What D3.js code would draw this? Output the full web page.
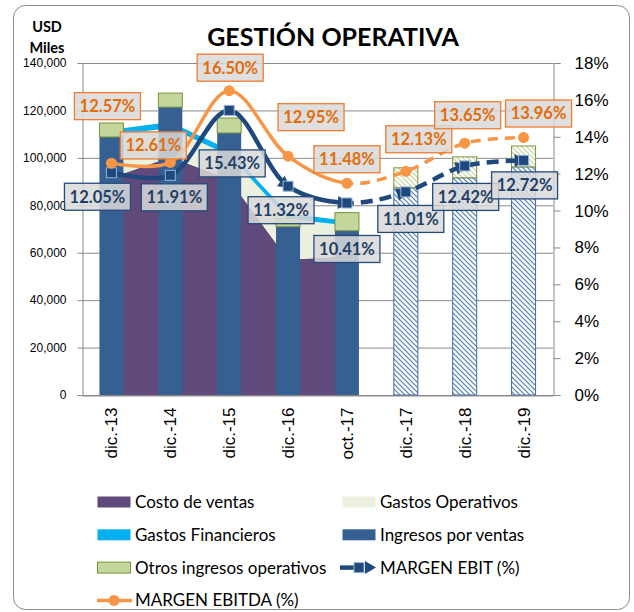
<!DOCTYPE html>
<html>
<head>
<meta charset="utf-8">
<script src="https://cdn.jsdelivr.net/npm/d3@7"></script>
<style>
  body { margin: 0; background: #fff; }
  svg { font-family: Lato, "Open Sans", sans-serif; }
</style>
</head>
<body>
<div id="vis"></div>
<script>
// data
const categories = ["dic.-13", "dic.-14", "dic.-15", "dic.-16", "oct.-17", "dic.-17", "dic.-18", "dic.-19"];
const costoVentas = [91600, 100400, 91000, 57000, 58500, null, null, null];
const gastosOperativos = [17900, 12200, 10000, 17300, 13000, null, null, null];
const gastosFinancieros = [2300, 2500, 2400, 2200, 2000, null, null, null];
const ingresosVentas = [108800, 121400, 110500, 71000, 69300, 87400, 91600, 96200];
const otrosIngresos = [5900, 5900, 6300, 3500, 7600, 8400, 8800, 8800];
const margenEbit = [12.05, 11.91, 15.43, 11.32, 10.41, 11.01, 12.42, 12.72];
const margenEbitda = [12.57, 12.61, 16.50, 12.95, 11.48, 12.13, 13.65, 13.96];
const proyectado = [false, false, false, false, false, true, true, true];
const leftTicks = [0, 20000, 40000, 60000, 80000, 100000, 120000, 140000];
const rightTicks = [0, 2, 4, 6, 8, 10, 12, 14, 16, 18];

// where the data labels sit, relative to their point
const ebitdaLabelOffset = [[-4, -57], [-17, -17], [1, -23], [23, -39], [0, -24], [13, -32], [3, -28], [15, -24]];
const ebitLabelOffset = [[-14, 24], [4, 22], [3, 53], [-7, 24], [0, 46], [5, 27], [1, 31], [1, 25]];
const ebitArrow = [false, false, false, true, true, true, true, true];

const W = 634, H = 612;
const plotLeft = 82, plotRight = 553, plotTop = 63, plotBottom = 395;

const svg = d3.select("#vis").append("svg")
    .attr("width", W)
    .attr("height", H);

const defs = svg.append("defs");

function hatch(id, color) {
  const s = 5;
  const p = defs.append("pattern")
      .attr("id", id)
      .attr("patternUnits", "userSpaceOnUse")
      .attr("width", s)
      .attr("height", s);
  p.append("rect").attr("width", s).attr("height", s).attr("fill", "#fff");
  p.append("path")
      .attr("d", `M-1,-1L${s + 1},${s + 1}M-1,${s - 1}L1,${s + 1}M${s - 1},-1L${s + 1},1`)
      .attr("stroke", color)
      .attr("stroke-width", 1.2);
}
hatch("hatchBlue", "#4F81BD");
hatch("hatchGreen", "#C3D69B");

// chart frame
svg.append("rect")
    .attr("x", 13.5).attr("y", 5.5)
    .attr("width", 616).attr("height", 604)
    .attr("rx", 12)
    .attr("fill", "none")
    .attr("stroke", "#8c8c8c");

const x = d3.scaleBand().domain(categories).range([plotLeft, plotRight]);
const cx = c => x(c) + x.bandwidth() / 2;
const y = d3.scaleLinear().domain([0, 140000]).range([plotBottom, plotTop]);
const yR = d3.scaleLinear().domain([0, 18]).range([plotBottom, plotTop]);

// gridlines
svg.append("g")
  .selectAll("line")
  .data(leftTicks)
  .join("line")
    .attr("x1", plotLeft).attr("x2", plotRight)
    .attr("y1", d => y(d) + 0.5).attr("y2", d => y(d) + 0.5)
    .attr("stroke", "#8a8a8a");

// left axis
const gL = svg.append("g")
    .attr("transform", `translate(${plotLeft + 0.5},0)`)
    .call(d3.axisLeft(y).tickValues(leftTicks).tickSize(5).tickPadding(11).tickFormat(d3.format(",")));
gL.selectAll("path, line").attr("stroke", "#8a8a8a");
gL.selectAll("text").attr("font-size", 12).attr("fill", "#000");

// right axis
const gR = svg.append("g")
    .attr("transform", `translate(${plotRight + 0.5},0)`)
    .call(d3.axisRight(yR).tickValues(rightTicks).tickSize(7).tickPadding(14).tickFormat(d => d + "%"));
gR.selectAll("path, line").attr("stroke", "#8a8a8a");
gR.selectAll("text").attr("font-size", 17).attr("fill", "#000");

// stacked areas
const areaRows = categories
  .map((c, i) => ({ cat: c, costo: costoVentas[i], gop: gastosOperativos[i], gfin: gastosFinancieros[i] }))
  .filter(r => r.costo != null);
const areaSeries = d3.stack().keys(["costo", "gop", "gfin"])(areaRows);
const areaColor = { costo: "#604A7B", gop: "#EBF1DE", gfin: "#00B0F0" };
const area = d3.area()
    .x(d => cx(d.data.cat))
    .y0(d => y(d[0]))
    .y1(d => y(d[1]));

svg.append("g")
  .selectAll("path")
  .data(areaSeries)
  .join("path")
    .attr("d", area)
    .attr("fill", d => areaColor[d.key]);

// stacked bars
const barW = 24;
const bars = svg.append("g");
categories.forEach((c, i) => {
  const y0 = ingresosVentas[i];
  const y1 = y0 + otrosIngresos[i];
  bars.append("rect")
      .attr("x", cx(c) - barW / 2)
      .attr("y", y(y0))
      .attr("width", barW)
      .attr("height", y(0) - y(y0))
      .attr("fill", proyectado[i] ? "url(#hatchBlue)" : "#376092")
      .attr("stroke", proyectado[i] ? "#3F6AA0" : "none");
  bars.append("rect")
      .attr("x", cx(c) - barW / 2)
      .attr("y", y(y1))
      .attr("width", barW)
      .attr("height", y(y0) - y(y1))
      .attr("fill", proyectado[i] ? "url(#hatchGreen)" : "#C3D69B")
      .attr("stroke", "#77933C");
});

// bottom axis
const gB = svg.append("g")
    .attr("transform", `translate(0,${plotBottom + 0.5})`)
    .call(d3.axisBottom(x).tickSize(0).tickSizeOuter(0));
gB.select(".domain").attr("stroke", "#8a8a8a");
gB.selectAll("text")
    .attr("transform", "rotate(-90)")
    .attr("x", -12)
    .attr("y", 0)
    .attr("dy", "0.35em")
    .attr("text-anchor", "end")
    .attr("font-size", 17)
    .attr("fill", "#000");

// lines: solid to oct.-17, dashed afterwards
const splitX = cx(categories[4]);
defs.append("clipPath").attr("id", "clipSolid")
  .append("rect").attr("x", 0).attr("y", 0).attr("width", splitX).attr("height", H);
defs.append("clipPath").attr("id", "clipDash")
  .append("rect").attr("x", splitX).attr("y", 0).attr("width", W - splitX).attr("height", H);

const line = d3.line()
    .x((d, i) => cx(categories[i]))
    .y(d => yR(d))
    .curve(d3.curveCatmullRom.alpha(0.5));

function drawLine(values, color, width, dash) {
  const g = svg.append("g").attr("fill", "none").attr("stroke", color).attr("stroke-width", width);
  const solid = g.append("path").attr("d", line(values)).attr("clip-path", "url(#clipSolid)");
  g.append("path").attr("d", line(values)).attr("clip-path", "url(#clipDash)").attr("stroke-dasharray", dash);
  return solid.node();
}

function angleAt(node, px) {
  let lo = 0, hi = node.getTotalLength();
  for (let k = 0; k < 30; k++) {
    const m = (lo + hi) / 2;
    if (node.getPointAtLength(m).x < px) lo = m; else hi = m;
  }
  const a = node.getPointAtLength(Math.max(0, lo - 2));
  const b = node.getPointAtLength(lo);
  return Math.atan2(b.y - a.y, b.x - a.x) * 180 / Math.PI;
}

const ebitNode = drawLine(margenEbit, "#1F497D", 4.5, "12,7");

svg.append("g")
  .selectAll("polygon")
  .data(margenEbit.map((v, i) => ({ v, i })).filter(d => ebitArrow[d.i]))
  .join("polygon")
    .attr("points", "3,0 -9,-6.5 -9,6.5")
    .attr("fill", "#1F497D")
    .attr("transform", d => `translate(${cx(categories[d.i])},${yR(d.v)}) rotate(${angleAt(ebitNode, cx(categories[d.i]))})`);

svg.append("g")
  .selectAll("rect")
  .data(margenEbit)
  .join("rect")
    .attr("x", (d, i) => cx(categories[i]) - 5)
    .attr("y", d => yR(d) - 5)
    .attr("width", 10)
    .attr("height", 10)
    .attr("fill", "#1F497D")
    .attr("stroke", "#95B3D7")
    .attr("stroke-width", 1);

drawLine(margenEbitda, "#F79646", 3.5, "10,7");

svg.append("g")
  .selectAll("circle")
  .data(margenEbitda)
  .join("circle")
    .attr("cx", (d, i) => cx(categories[i]))
    .attr("cy", d => yR(d))
    .attr("r", 5.5)
    .attr("fill", "#F79646");

// data labels
function labels(values, offsets, stroke, color) {
  const g = svg.append("g")
    .selectAll("g")
    .data(values)
    .join("g")
      .attr("transform", (d, i) => `translate(${cx(categories[i]) + offsets[i][0]},${yR(d) + offsets[i][1]})`);
  g.append("rect")
      .attr("x", -33).attr("y", -13.5)
      .attr("width", 66).attr("height", 27)
      .attr("fill", "#D9D9D9")
      .attr("fill-opacity", 0.85)
      .attr("stroke", stroke)
      .attr("stroke-width", 1.3);
  g.append("text")
      .attr("text-anchor", "middle")
      .attr("dy", "0.36em")
      .attr("font-size", 16.5)
      .attr("font-weight", "bold")
      .attr("fill", color)
      .text(d => d.toFixed(2) + "%");
}
labels(margenEbit, ebitLabelOffset, "#244A78", "#1F3F66");
labels(margenEbitda, ebitdaLabelOffset, "#EE7D2E", "#E46C0A");

// titles
svg.append("text")
    .attr("x", 333).attr("y", 46)
    .attr("text-anchor", "middle")
    .attr("font-size", 25)
    .attr("font-weight", "bold")
    .text("GESTIÓN OPERATIVA");
svg.append("text")
    .attr("x", 47).attr("y", 32)
    .attr("text-anchor", "middle")
    .attr("font-size", 14.5)
    .attr("font-weight", "bold")
    .text("USD");
svg.append("text")
    .attr("x", 47).attr("y", 53)
    .attr("text-anchor", "middle")
    .attr("font-size", 14.5)
    .attr("font-weight", "bold")
    .text("Miles");

// legend
const legendItems = [
  { name: "Costo de ventas", type: "rect", fill: "#604A7B" },
  { name: "Gastos Operativos", type: "rect", fill: "#EBF1DE" },
  { name: "Gastos Financieros", type: "rect", fill: "#00B0F0" },
  { name: "Ingresos por ventas", type: "rect", fill: "#376092" },
  { name: "Otros ingresos operativos", type: "rect", fill: "#C3D69B", stroke: "#77933C" },
  { name: "MARGEN EBIT (%)", type: "ebit" },
  { name: "MARGEN EBITDA (%)", type: "ebitda" }
];
const lg = svg.append("g")
  .selectAll("g")
  .data(legendItems)
  .join("g")
    .attr("transform", (d, i) => `translate(${i % 2 ? 342 : 97},${502 + Math.floor(i / 2) * 32.8})`);

lg.filter(d => d.type === "rect").append("rect")
    .attr("x", 0.5).attr("y", -5.5)
    .attr("width", 33).attr("height", 11)
    .attr("fill", d => d.fill)
    .attr("stroke", d => d.stroke || "none");

const le = lg.filter(d => d.type === "ebit");
le.append("line").attr("x1", -2).attr("x2", 22).attr("y1", 0).attr("y2", 0)
    .attr("stroke", "#1F497D").attr("stroke-width", 4.5);
le.append("polygon").attr("points", "34,0 23,-6.5 23,6.5").attr("fill", "#1F497D");
le.append("rect").attr("x", 12).attr("y", -5).attr("width", 10).attr("height", 10)
    .attr("fill", "#1F497D").attr("stroke", "#95B3D7");

const la = lg.filter(d => d.type === "ebitda");
la.append("line").attr("x1", 0).attr("x2", 35).attr("y1", 0).attr("y2", 0)
    .attr("stroke", "#F79646").attr("stroke-width", 3.5);
la.append("circle").attr("cx", 17).attr("cy", 0).attr("r", 5.5).attr("fill", "#F79646");

lg.append("text")
    .attr("x", 38)
    .attr("dy", "0.35em")
    .attr("font-size", 17)
    .attr("fill", "#000")
    .text(d => d.name);
</script>
</body>
</html>
